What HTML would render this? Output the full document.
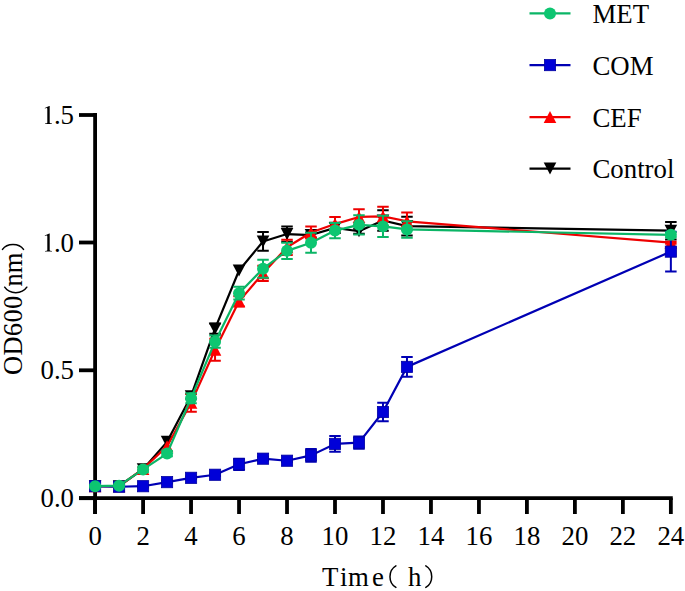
<!DOCTYPE html>
<html><head><meta charset="utf-8"><style>
html,body{margin:0;padding:0;background:#fff;overflow:hidden;}
svg{display:block;}
text{font-family:"Liberation Serif",serif;font-size:26.8px;fill:#000;}
</style></head><body>
<svg width="685" height="591" viewBox="0 0 685 591">
<rect width="685" height="591" fill="#fff"/>
<path d="M95.10 113.10V514.0" stroke="#000" stroke-width="3.8"/>
<path d="M79.0 498.20H672.76" stroke="#000" stroke-width="3.8"/>
<path d="M79.0 498.20H95.10" stroke="#000" stroke-width="3.8"/>
<path d="M79.0 370.30H95.10" stroke="#000" stroke-width="3.8"/>
<path d="M79.0 242.50H95.10" stroke="#000" stroke-width="3.8"/>
<path d="M79.0 115.00H95.10" stroke="#000" stroke-width="3.8"/>
<path d="M95.10 498.20V514.0" stroke="#000" stroke-width="3.8"/>
<path d="M143.08 498.20V514.0" stroke="#000" stroke-width="3.8"/>
<path d="M191.06 498.20V514.0" stroke="#000" stroke-width="3.8"/>
<path d="M239.04 498.20V514.0" stroke="#000" stroke-width="3.8"/>
<path d="M287.02 498.20V514.0" stroke="#000" stroke-width="3.8"/>
<path d="M335.00 498.20V514.0" stroke="#000" stroke-width="3.8"/>
<path d="M382.98 498.20V514.0" stroke="#000" stroke-width="3.8"/>
<path d="M430.96 498.20V514.0" stroke="#000" stroke-width="3.8"/>
<path d="M478.94 498.20V514.0" stroke="#000" stroke-width="3.8"/>
<path d="M526.92 498.20V514.0" stroke="#000" stroke-width="3.8"/>
<path d="M574.90 498.20V514.0" stroke="#000" stroke-width="3.8"/>
<path d="M622.88 498.20V514.0" stroke="#000" stroke-width="3.8"/>
<path d="M670.86 498.20V514.0" stroke="#000" stroke-width="3.8"/>
<path d="M95.10 484.95V487.50M89.35 484.95H100.85M89.35 487.50H100.85" stroke="#000000" stroke-width="2.0" fill="none"/>
<path d="M119.09 484.95V487.50M113.34 484.95H124.84M113.34 487.50H124.84" stroke="#000000" stroke-width="2.0" fill="none"/>
<path d="M191.06 393.66V398.76M185.31 393.66H196.81M185.31 398.76H196.81" stroke="#000000" stroke-width="2.0" fill="none"/>
<path d="M215.05 323.53V333.74M209.30 323.53H220.80M209.30 333.74H220.80" stroke="#000000" stroke-width="2.0" fill="none"/>
<path d="M263.03 231.99V250.86M257.28 231.99H268.78M257.28 250.86H268.78" stroke="#000000" stroke-width="2.0" fill="none"/>
<path d="M287.02 226.38V241.68M281.27 226.38H292.77M281.27 241.68H292.77" stroke="#000000" stroke-width="2.0" fill="none"/>
<path d="M311.01 232.50V237.60M305.26 232.50H316.76M305.26 237.60H316.76" stroke="#000000" stroke-width="2.0" fill="none"/>
<path d="M335.00 222.81V233.01M329.25 222.81H340.75M329.25 233.01H340.75" stroke="#000000" stroke-width="2.0" fill="none"/>
<path d="M358.99 228.68V233.78M353.24 228.68H364.74M353.24 233.78H364.74" stroke="#000000" stroke-width="2.0" fill="none"/>
<path d="M382.98 210.31V230.72M377.23 210.31H388.73M377.23 230.72H388.73" stroke="#000000" stroke-width="2.0" fill="none"/>
<path d="M406.97 216.69V235.56M401.22 216.69H412.72M401.22 235.56H412.72" stroke="#000000" stroke-width="2.0" fill="none"/>
<path d="M670.86 222.05V239.38M665.11 222.05H676.61M665.11 239.38H676.61" stroke="#000000" stroke-width="2.0" fill="none"/>
<polyline points="95.10,486.22 119.09,486.22 143.08,469.14 167.07,441.86 191.06,396.21 215.05,328.63 239.04,270.50 263.03,241.43 287.02,234.03 311.01,235.05 335.00,227.91 358.99,231.23 382.98,220.51 406.97,226.12 670.86,230.72" fill="none" stroke="#000000" stroke-width="2.2" stroke-linejoin="round"/>
<path d="M88.80 480.22L101.40 480.22L95.10 492.22Z" fill="#000000"/>
<path d="M112.79 480.22L125.39 480.22L119.09 492.22Z" fill="#000000"/>
<path d="M136.78 463.14L149.38 463.14L143.08 475.14Z" fill="#000000"/>
<path d="M160.77 435.86L173.37 435.86L167.07 447.86Z" fill="#000000"/>
<path d="M184.76 390.21L197.36 390.21L191.06 402.21Z" fill="#000000"/>
<path d="M208.75 322.63L221.35 322.63L215.05 334.63Z" fill="#000000"/>
<path d="M232.74 264.50L245.34 264.50L239.04 276.50Z" fill="#000000"/>
<path d="M256.73 235.43L269.33 235.43L263.03 247.43Z" fill="#000000"/>
<path d="M280.72 228.03L293.32 228.03L287.02 240.03Z" fill="#000000"/>
<path d="M304.71 229.05L317.31 229.05L311.01 241.05Z" fill="#000000"/>
<path d="M328.70 221.91L341.30 221.91L335.00 233.91Z" fill="#000000"/>
<path d="M352.69 225.23L365.29 225.23L358.99 237.23Z" fill="#000000"/>
<path d="M376.68 214.51L389.28 214.51L382.98 226.51Z" fill="#000000"/>
<path d="M400.67 220.12L413.27 220.12L406.97 232.12Z" fill="#000000"/>
<path d="M664.56 224.72L677.16 224.72L670.86 236.72Z" fill="#000000"/>
<path d="M95.10 484.95V487.50M89.35 484.95H100.85M89.35 487.50H100.85" stroke="#EE0000" stroke-width="2.0" fill="none"/>
<path d="M119.09 484.95V487.50M113.34 484.95H124.84M113.34 487.50H124.84" stroke="#EE0000" stroke-width="2.0" fill="none"/>
<path d="M143.08 467.61V470.16M137.33 467.61H148.83M137.33 470.16H148.83" stroke="#EE0000" stroke-width="2.0" fill="none"/>
<path d="M191.06 393.91V411.76M185.31 393.91H196.81M185.31 411.76H196.81" stroke="#EE0000" stroke-width="2.0" fill="none"/>
<path d="M215.05 338.83V360.76M209.30 338.83H220.80M209.30 360.76H220.80" stroke="#EE0000" stroke-width="2.0" fill="none"/>
<path d="M239.04 296.25V306.45M233.29 296.25H244.79M233.29 306.45H244.79" stroke="#EE0000" stroke-width="2.0" fill="none"/>
<path d="M263.03 265.65V280.95M257.28 265.65H268.78M257.28 280.95H268.78" stroke="#EE0000" stroke-width="2.0" fill="none"/>
<path d="M287.02 239.64V254.94M281.27 239.64H292.77M281.27 254.94H292.77" stroke="#EE0000" stroke-width="2.0" fill="none"/>
<path d="M311.01 226.38V238.62M305.26 226.38H316.76M305.26 238.62H316.76" stroke="#EE0000" stroke-width="2.0" fill="none"/>
<path d="M335.00 216.94V231.23M329.25 216.94H340.75M329.25 231.23H340.75" stroke="#EE0000" stroke-width="2.0" fill="none"/>
<path d="M358.99 209.29V224.60M353.24 209.29H364.74M353.24 224.60H364.74" stroke="#EE0000" stroke-width="2.0" fill="none"/>
<path d="M382.98 206.75V226.12M377.23 206.75H388.73M377.23 226.12H388.73" stroke="#EE0000" stroke-width="2.0" fill="none"/>
<path d="M406.97 212.61V229.95M401.22 212.61H412.72M401.22 229.95H412.72" stroke="#EE0000" stroke-width="2.0" fill="none"/>
<path d="M670.86 241.68V243.72M665.11 241.68H676.61M665.11 243.72H676.61" stroke="#EE0000" stroke-width="2.0" fill="none"/>
<polyline points="95.10,486.22 119.09,486.22 143.08,468.88 167.07,446.32 191.06,402.84 215.05,349.80 239.04,301.35 263.03,273.30 287.02,247.29 311.01,232.50 335.00,224.08 358.99,216.94 382.98,216.44 406.97,221.28 670.86,242.70" fill="none" stroke="#EE0000" stroke-width="2.2" stroke-linejoin="round"/>
<path d="M95.10 480.22L101.40 492.22L88.80 492.22Z" fill="#FF0000"/>
<path d="M119.09 480.22L125.39 492.22L112.79 492.22Z" fill="#FF0000"/>
<path d="M143.08 462.88L149.38 474.88L136.78 474.88Z" fill="#FF0000"/>
<path d="M167.07 440.32L173.37 452.32L160.77 452.32Z" fill="#FF0000"/>
<path d="M191.06 396.84L197.36 408.84L184.76 408.84Z" fill="#FF0000"/>
<path d="M215.05 343.80L221.35 355.80L208.75 355.80Z" fill="#FF0000"/>
<path d="M239.04 295.35L245.34 307.35L232.74 307.35Z" fill="#FF0000"/>
<path d="M263.03 267.30L269.33 279.30L256.73 279.30Z" fill="#FF0000"/>
<path d="M287.02 241.29L293.32 253.29L280.72 253.29Z" fill="#FF0000"/>
<path d="M311.01 226.50L317.31 238.50L304.71 238.50Z" fill="#FF0000"/>
<path d="M335.00 218.08L341.30 230.08L328.70 230.08Z" fill="#FF0000"/>
<path d="M358.99 210.94L365.29 222.94L352.69 222.94Z" fill="#FF0000"/>
<path d="M382.98 210.44L389.28 222.44L376.68 222.44Z" fill="#FF0000"/>
<path d="M406.97 215.28L413.27 227.28L400.67 227.28Z" fill="#FF0000"/>
<path d="M670.86 236.70L677.16 248.70L664.56 248.70Z" fill="#FF0000"/>
<path d="M95.10 484.95V487.50M89.35 484.95H100.85M89.35 487.50H100.85" stroke="#0000B4" stroke-width="2.0" fill="none"/>
<path d="M119.09 485.46V488.01M113.34 485.46H124.84M113.34 488.01H124.84" stroke="#0000B4" stroke-width="2.0" fill="none"/>
<path d="M143.08 484.95V487.50M137.33 484.95H148.83M137.33 487.50H148.83" stroke="#0000B4" stroke-width="2.0" fill="none"/>
<path d="M167.07 480.87V483.42M161.32 480.87H172.82M161.32 483.42H172.82" stroke="#0000B4" stroke-width="2.0" fill="none"/>
<path d="M191.06 476.53V479.08M185.31 476.53H196.81M185.31 479.08H196.81" stroke="#0000B4" stroke-width="2.0" fill="none"/>
<path d="M215.05 473.47V476.02M209.30 473.47H220.80M209.30 476.02H220.80" stroke="#0000B4" stroke-width="2.0" fill="none"/>
<path d="M239.04 458.69V469.90M233.29 458.69H244.79M233.29 469.90H244.79" stroke="#0000B4" stroke-width="2.0" fill="none"/>
<path d="M263.03 456.64V460.73M257.28 456.64H268.78M257.28 460.73H268.78" stroke="#0000B4" stroke-width="2.0" fill="none"/>
<path d="M287.02 459.45V462.00M281.27 459.45H292.77M281.27 462.00H292.77" stroke="#0000B4" stroke-width="2.0" fill="none"/>
<path d="M311.01 449.00V461.75M305.26 449.00H316.76M305.26 461.75H316.76" stroke="#0000B4" stroke-width="2.0" fill="none"/>
<path d="M335.00 435.99V451.80M329.25 435.99H340.75M329.25 451.80H340.75" stroke="#0000B4" stroke-width="2.0" fill="none"/>
<path d="M358.99 436.50V448.74M353.24 436.50H364.74M353.24 448.74H364.74" stroke="#0000B4" stroke-width="2.0" fill="none"/>
<path d="M382.98 402.84V421.20M377.23 402.84H388.73M377.23 421.20H388.73" stroke="#0000B4" stroke-width="2.0" fill="none"/>
<path d="M406.97 356.94V376.83M401.22 356.94H412.72M401.22 376.83H412.72" stroke="#0000B4" stroke-width="2.0" fill="none"/>
<path d="M670.86 231.74V271.51M665.11 231.74H676.61M665.11 271.51H676.61" stroke="#0000B4" stroke-width="2.0" fill="none"/>
<polyline points="95.10,486.22 119.09,486.74 143.08,486.22 167.07,482.14 191.06,477.81 215.05,474.75 239.04,464.29 263.03,458.69 287.02,460.73 311.01,455.37 335.00,443.89 358.99,442.62 382.98,412.02 406.97,366.88 670.86,251.62" fill="none" stroke="#0000B4" stroke-width="2.2" stroke-linejoin="round"/>
<rect x="89.50" y="480.62" width="11.2" height="11.2" fill="#0000D8" stroke="#0000A0" stroke-width="0.8"/>
<rect x="113.49" y="481.13" width="11.2" height="11.2" fill="#0000D8" stroke="#0000A0" stroke-width="0.8"/>
<rect x="137.48" y="480.62" width="11.2" height="11.2" fill="#0000D8" stroke="#0000A0" stroke-width="0.8"/>
<rect x="161.47" y="476.54" width="11.2" height="11.2" fill="#0000D8" stroke="#0000A0" stroke-width="0.8"/>
<rect x="185.46" y="472.21" width="11.2" height="11.2" fill="#0000D8" stroke="#0000A0" stroke-width="0.8"/>
<rect x="209.45" y="469.15" width="11.2" height="11.2" fill="#0000D8" stroke="#0000A0" stroke-width="0.8"/>
<rect x="233.44" y="458.69" width="11.2" height="11.2" fill="#0000D8" stroke="#0000A0" stroke-width="0.8"/>
<rect x="257.43" y="453.08" width="11.2" height="11.2" fill="#0000D8" stroke="#0000A0" stroke-width="0.8"/>
<rect x="281.42" y="455.12" width="11.2" height="11.2" fill="#0000D8" stroke="#0000A0" stroke-width="0.8"/>
<rect x="305.41" y="449.77" width="11.2" height="11.2" fill="#0000D8" stroke="#0000A0" stroke-width="0.8"/>
<rect x="329.40" y="438.29" width="11.2" height="11.2" fill="#0000D8" stroke="#0000A0" stroke-width="0.8"/>
<rect x="353.39" y="437.02" width="11.2" height="11.2" fill="#0000D8" stroke="#0000A0" stroke-width="0.8"/>
<rect x="377.38" y="406.42" width="11.2" height="11.2" fill="#0000D8" stroke="#0000A0" stroke-width="0.8"/>
<rect x="401.37" y="361.28" width="11.2" height="11.2" fill="#0000D8" stroke="#0000A0" stroke-width="0.8"/>
<rect x="665.26" y="246.03" width="11.2" height="11.2" fill="#0000D8" stroke="#0000A0" stroke-width="0.8"/>
<path d="M95.10 484.95V487.50M89.35 484.95H100.85M89.35 487.50H100.85" stroke="#0BB566" stroke-width="2.0" fill="none"/>
<path d="M119.09 484.69V486.74M113.34 484.69H124.84M113.34 486.74H124.84" stroke="#0BB566" stroke-width="2.0" fill="none"/>
<path d="M143.08 466.84V471.94M137.33 466.84H148.83M137.33 471.94H148.83" stroke="#0BB566" stroke-width="2.0" fill="none"/>
<path d="M167.07 451.03V456.13M161.32 451.03H172.82M161.32 456.13H172.82" stroke="#0BB566" stroke-width="2.0" fill="none"/>
<path d="M191.06 393.15V403.35M185.31 393.15H196.81M185.31 403.35H196.81" stroke="#0BB566" stroke-width="2.0" fill="none"/>
<path d="M215.05 335.52V347.76M209.30 335.52H220.80M209.30 347.76H220.80" stroke="#0BB566" stroke-width="2.0" fill="none"/>
<path d="M239.04 286.81V299.56M233.29 286.81H244.79M233.29 299.56H244.79" stroke="#0BB566" stroke-width="2.0" fill="none"/>
<path d="M263.03 259.78V277.63M257.28 259.78H268.78M257.28 277.63H268.78" stroke="#0BB566" stroke-width="2.0" fill="none"/>
<path d="M287.02 242.70V259.02M281.27 242.70H292.77M281.27 259.02H292.77" stroke="#0BB566" stroke-width="2.0" fill="none"/>
<path d="M311.01 232.75V252.65M305.26 232.75H316.76M305.26 252.65H316.76" stroke="#0BB566" stroke-width="2.0" fill="none"/>
<path d="M335.00 222.94V238.24M329.25 222.94H340.75M329.25 238.24H340.75" stroke="#0BB566" stroke-width="2.0" fill="none"/>
<path d="M358.99 215.16V234.54M353.24 215.16H364.74M353.24 234.54H364.74" stroke="#0BB566" stroke-width="2.0" fill="none"/>
<path d="M382.98 215.67V237.09M377.23 215.67H388.73M377.23 237.09H388.73" stroke="#0BB566" stroke-width="2.0" fill="none"/>
<path d="M406.97 221.15V237.73M401.22 221.15H412.72M401.22 237.73H412.72" stroke="#0BB566" stroke-width="2.0" fill="none"/>
<path d="M670.86 232.25V237.35M665.11 232.25H676.61M665.11 237.35H676.61" stroke="#0BB566" stroke-width="2.0" fill="none"/>
<polyline points="95.10,486.22 119.09,485.71 143.08,469.39 167.07,453.58 191.06,398.25 215.05,341.64 239.04,293.19 263.03,268.71 287.02,250.86 311.01,242.70 335.00,230.59 358.99,224.85 382.98,226.38 406.97,229.44 670.86,234.80" fill="none" stroke="#0BB566" stroke-width="2.2" stroke-linejoin="round"/>
<circle cx="95.10" cy="486.22" r="6.00" fill="#0DC671"/>
<circle cx="119.09" cy="485.71" r="6.00" fill="#0DC671"/>
<circle cx="143.08" cy="469.39" r="6.00" fill="#0DC671"/>
<circle cx="167.07" cy="453.58" r="6.00" fill="#0DC671"/>
<circle cx="191.06" cy="398.25" r="6.00" fill="#0DC671"/>
<circle cx="215.05" cy="341.64" r="6.00" fill="#0DC671"/>
<circle cx="239.04" cy="293.19" r="6.00" fill="#0DC671"/>
<circle cx="263.03" cy="268.71" r="6.00" fill="#0DC671"/>
<circle cx="287.02" cy="250.86" r="6.00" fill="#0DC671"/>
<circle cx="311.01" cy="242.70" r="6.00" fill="#0DC671"/>
<circle cx="335.00" cy="230.59" r="6.00" fill="#0DC671"/>
<circle cx="358.99" cy="224.85" r="6.00" fill="#0DC671"/>
<circle cx="382.98" cy="226.38" r="6.00" fill="#0DC671"/>
<circle cx="406.97" cy="229.44" r="6.00" fill="#0DC671"/>
<circle cx="670.86" cy="234.80" r="6.00" fill="#0DC671"/>
<text x="74" y="507.20" text-anchor="end">0.0</text>
<text x="74" y="379.30" text-anchor="end">0.5</text>
<text x="74" y="251.50" text-anchor="end">.0</text>
<path transform="translate(44.8 251.50)" d="M4.9 -18.1L4.9 -1.3Q5.0 -0.7 7.2 -0.6L7.2 0L0.2 0L0.2 -0.6Q2.5 -0.7 2.5 -1.3L2.5 -15.2Q2.5 -16.1 1.6 -15.9L0.1 -15.5L0 -16.1L4.4 -18.1Z" fill="#000"/>
<text x="74" y="124.00" text-anchor="end">.5</text>
<path transform="translate(44.8 124.00)" d="M4.9 -18.1L4.9 -1.3Q5.0 -0.7 7.2 -0.6L7.2 0L0.2 0L0.2 -0.6Q2.5 -0.7 2.5 -1.3L2.5 -15.2Q2.5 -16.1 1.6 -15.9L0.1 -15.5L0 -16.1L4.4 -18.1Z" fill="#000"/>
<text x="95.10" y="545.3" text-anchor="middle">0</text>
<text x="143.08" y="545.3" text-anchor="middle">2</text>
<text x="191.06" y="545.3" text-anchor="middle">4</text>
<text x="239.04" y="545.3" text-anchor="middle">6</text>
<text x="287.02" y="545.3" text-anchor="middle">8</text>
<text x="335.00" y="545.3" text-anchor="middle">10</text>
<text x="382.98" y="545.3" text-anchor="middle">12</text>
<text x="430.96" y="545.3" text-anchor="middle">14</text>
<text x="478.94" y="545.3" text-anchor="middle">16</text>
<text x="526.92" y="545.3" text-anchor="middle">18</text>
<text x="574.90" y="545.3" text-anchor="middle">20</text>
<text x="622.88" y="545.3" text-anchor="middle">22</text>
<text x="670.86" y="545.3" text-anchor="middle">24</text>
<text transform="translate(22.3 375.0) rotate(-90)" letter-spacing="0.3" style="font-size:26.5px">OD600</text>
<text transform="translate(22.3 286.6) rotate(-90)" style="font-size:26.5px">nm</text>
<path d="M4.7 287.2C9.5 294.5 22.0 294.5 26.8 287.2M2.5 249.4C7 242.9 19 242.9 23.5 249.4" fill="none" stroke="#000" stroke-width="1.5" stroke-linecap="round"/>
<text y="585.6"><tspan x="322.00" y="585.60">T</tspan><tspan x="340.00" y="585.60">i</tspan><tspan x="348.00" y="585.60">m</tspan><tspan x="372.00" y="585.60">e</tspan><tspan x="408.00" y="585.60">h</tspan></text>
<path d="M395.9 565.9C388.0 570.6 388.0 582.7 395.9 587.4M425.8 565.9C433.7 570.6 433.7 582.7 425.8 587.4" fill="none" stroke="#000" stroke-width="1.5" stroke-linecap="round"/>
<path d="M529.5 13.4H570.5" stroke="#0BB566" stroke-width="2.1"/>
<circle cx="550.00" cy="13.40" r="6.00" fill="#0DC671"/>
<text x="592.5" y="23.20">MET</text>
<path d="M529.5 65.1H570.5" stroke="#0000B4" stroke-width="2.1"/>
<rect x="544.40" y="59.50" width="11.2" height="11.2" fill="#0000D8" stroke="#0000A0" stroke-width="0.8"/>
<text x="592.5" y="74.90">COM</text>
<path d="M529.5 117.1H570.5" stroke="#EE0000" stroke-width="2.1"/>
<path d="M550.00 111.10L556.30 123.10L543.70 123.10Z" fill="#FF0000"/>
<text x="592.5" y="126.90">CEF</text>
<path d="M529.5 168.6H570.5" stroke="#000000" stroke-width="2.1"/>
<path d="M543.70 162.60L556.30 162.60L550.00 174.60Z" fill="#000000"/>
<text x="592.5" y="178.40">Control</text>
</svg>
</body></html>
